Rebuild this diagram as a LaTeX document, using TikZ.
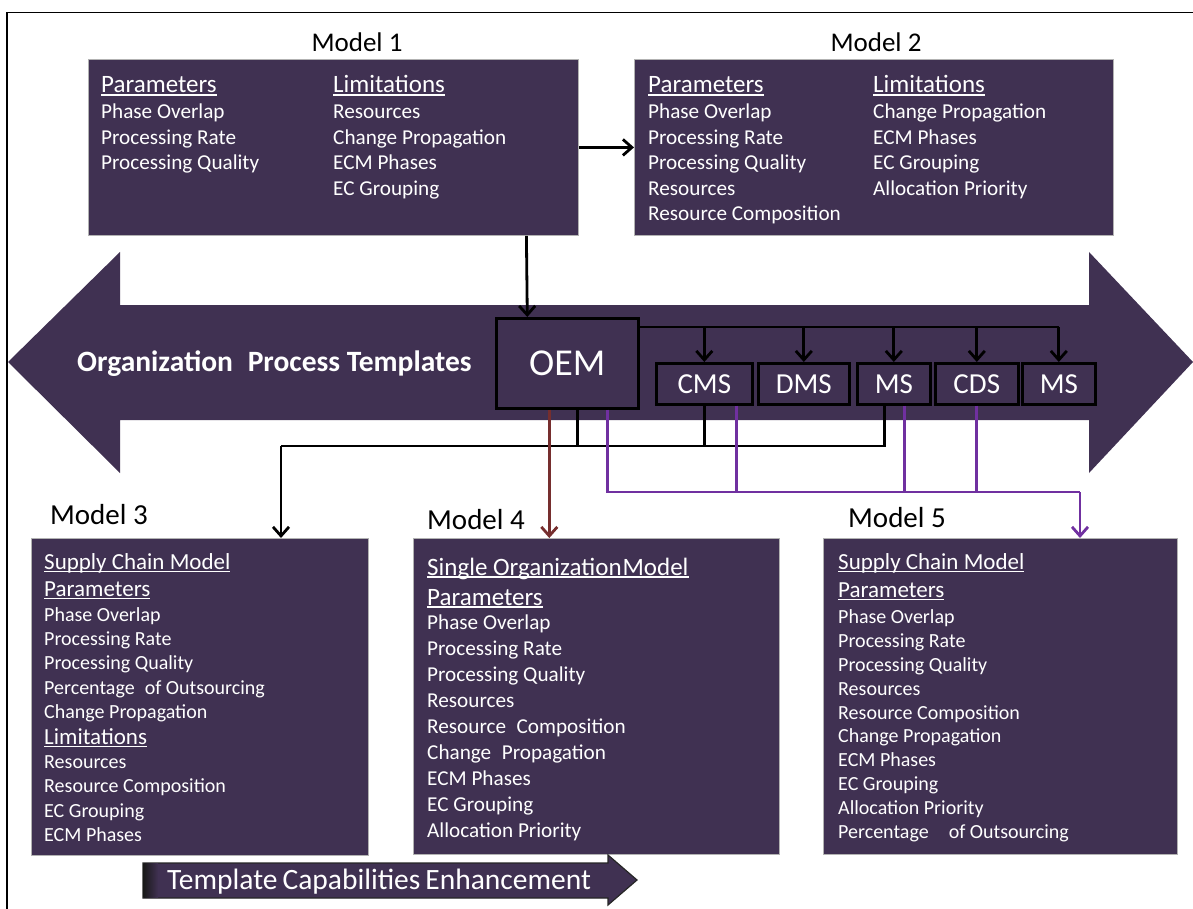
\documentclass[tikz,border=0pt]{standalone}
\usepackage{fontspec}
\setmainfont{Carlito}
\usetikzlibrary{arrows.meta,calc}
\definecolor{boxp}{RGB}{64,49,82}
\definecolor{brn}{RGB}{118,46,46}
\definecolor{vio}{RGB}{112,48,160}
\newcommand{\uln}[1]{\setbox0\hbox{#1}\rlap{\rule[-0.11em]{\wd0}{0.06em}}\box0}
\tikzset{
  mbox/.style={fill=boxp, draw=gray!60, line width=0.8pt, inner sep=0, anchor=north west},
  sbox/.style={fill=boxp, draw=black, line width=2.6pt, inner sep=0, anchor=north west,
    minimum height=41pt, text=white, font=\fontsize{29}{32}\selectfont},
  item/.style={anchor=west, inner sep=0, text=white, font=\fontsize{21.2}{25}\selectfont,
    text height=13.6pt, text depth=0pt},
  sitem/.style={item, font=\fontsize{20}{24}\selectfont, text height=12.9pt},
  hd/.style={item, font=\fontsize{25}{30}\selectfont, text height=16pt},
  shd/.style={item, font=\fontsize{23}{28}\selectfont, text height=14.8pt},
  ttl/.style={inner sep=0, font=\fontsize{27}{32}\selectfont, text height=17.4pt, text depth=0pt},
  bttl/.style={ttl, font=\fontsize{29}{34}\selectfont, text height=18.7pt},
  conn/.style={line width=2.8pt},
  arr/.style={-{Straight Barb[length=9pt,width=16pt]}}
}
\begin{document}
\begin{tikzpicture}[x=1pt,y=-1pt]
\useasboundingbox (0,0) rectangle (1193,909);
% frame
\draw[line width=1.5pt] (7,909) -- (7,12.5) -- (1193,12.5);

% big double arrow
\fill[boxp] (8,362) -- (120,252) -- (120,305) -- (1089,305) -- (1089,252) -- (1193,362)
  -- (1089,473) -- (1089,420) -- (120,420) -- (120,473) -- cycle;
\node[anchor=west, inner sep=0, text=white, font=\bfseries\fontsize{29.5}{34}\selectfont, text height=19pt, text depth=0pt]
  (opt) at (77,362) {Organization\enspace Process Templates};

% top models
\node[ttl] (t1) at (357,43) {Model 1};
\node[ttl] (t2) at (876,43) {Model 2};
\node[mbox, minimum width=490pt, minimum height=176pt] (m1) at (88,59) {};
\node[mbox, minimum width=479pt, minimum height=176pt] (m2) at (634,59) {};

\node[hd] (m1h1) at (101,85) {\uln{Parameters}};
\foreach \t [count=\i] in {Phase Overlap,Processing Rate,Processing Quality}
  \node[item] (m1a\i) at (101,86.5+\i*25.5) {\t};
\node[hd] (m1h2) at (333,85) {\uln{Limitations}};
\foreach \t [count=\i] in {Resources,Change Propagation,ECM Phases,EC Grouping}
  \node[item] (m1b\i) at (333,86.5+\i*25.5) {\t};

\node[hd] (m2h1) at (648,85) {\uln{Parameters}};
\foreach \t [count=\i] in {Phase Overlap,Processing Rate,Processing Quality,Resources,Resource Composition}
  \node[item] (m2a\i) at (648,86.5+\i*25.5) {\t};
\node[hd] (m2h2) at (873,85) {\uln{Limitations}};
\foreach \t [count=\i] in {Change Propagation,ECM Phases,EC Grouping,Allocation Priority}
  \node[item] (m2b\i) at (873,86.5+\i*25.5) {\t};

% OEM and small boxes
\node[sbox, minimum width=142pt, minimum height=90pt, font=\fontsize{38}{42}\selectfont] (oem) at (495,317) {OEM};
\node[sbox, minimum width=96pt] (s1) at (655,362) {CMS};
\node[sbox, minimum width=91pt] (s2) at (757,362) {DMS};
\node[sbox, minimum width=73pt] (s3) at (856,362) {MS};
\node[sbox, minimum width=83pt] (s4) at (934,362) {CDS};
\node[sbox, minimum width=73pt] (s5) at (1021,362) {MS};

% bottom models
\node[bttl] (t3) at (99,515) {Model 3};
\node[bttl] (t4) at (476,520) {Model 4};
\node[bttl] (t5) at (897,518) {Model 5};
\node[mbox, minimum width=337pt, minimum height=317pt] (m3) at (31,538) {};
\node[mbox, minimum width=366pt, minimum height=316pt] (m4) at (413,538) {};
\node[mbox, minimum width=354pt, minimum height=316pt] (m5) at (823,538) {};

\node[shd] (m3h1) at (44,562) {\uln{Supply Chain Model}};
\node[shd] (m3h2) at (44,589) {\uln{Parameters}};
\foreach \t [count=\i] in {Phase Overlap,Processing Rate,Processing Quality,Percentage\enspace of Outsourcing,Change Propagation}
  \node[sitem] (m3a\i) at (44,590.8+\i*24.2) {\t};
\node[shd] (m3h3) at (44,737) {\uln{Limitations}};
\foreach \t [count=\i] in {Resources,Resource Composition,EC Grouping,ECM Phases}
  \node[sitem] (m3b\i) at (44,737.6+\i*24.4) {\t};

\node[hd] (m4h1) at (427,567) {\uln{Single Organization\kern1pt Model}};
\node[hd] (m4h2) at (427,597) {\uln{Parameters}};
\foreach \t [count=\i] in {Phase Overlap,Processing Rate,Processing Quality,Resources,Resource\enspace Composition,Change\enspace Propagation,ECM Phases,EC Grouping,Allocation Priority}
  \node[item] (m4a\i) at (427,597+\i*26) {\t};

\node[shd] (m5h1) at (838,562) {\uln{Supply Chain Model}};
\node[shd] (m5h2) at (838,590) {\uln{Parameters}};
\foreach \t [count=\i] in {Phase Overlap,Processing Rate,Processing Quality,Resources,Resource Composition,Change Propagation,ECM Phases,EC Grouping,Allocation Priority,Percentage\quad of Outsourcing}
  \node[sitem] (m5a\i) at (838,593.1+\i*23.9) {\t};

% bottom enhancement arrow
\filldraw[fill=boxp, draw=black!85, line width=1.2pt] (143,863) -- (608,863) -- (608,855) -- (637,880)
  -- (608,905) -- (608,898) -- (143,898) -- cycle;
\shade[left color=black!90, right color=boxp] (143.6,863.6) rectangle (158,897.4);
\node[item, font=\fontsize{29.5}{34}\selectfont, text height=19pt] (tce) at (167,880) {Template\kern5pt Capabilities\kern5pt Enhancement};

% connectors
\draw[conn, arr] (m1.east) -- (m2.west);
\draw[conn, arr] ([xshift=193pt]m1.south) -- ([xshift=-40pt]oem.north);
\draw[conn] (oem.east |- 0,327) -- (s5.north |- 0,327);
\foreach \s in {s1,s2,s3,s4,s5}
  \draw[conn, arr] (\s.north |- 0,327) -- (\s.north);

\coordinate (jb) at (281,446);
\coordinate (jp) at (1080,492);
\draw[conn] ([xshift=10pt]oem.south) |- (jb);
\draw[conn] (s1.south) -- (s1.south |- jb);
\draw[conn] ([xshift=-9.5pt]s3.south) |- (jb);
\draw[conn, arr] (jb) -- (m3.north -| jb);

\draw[conn, vio] ([xshift=40pt]oem.south) |- (jp);
\draw[conn, vio] ([xshift=32pt]s1.south) -- ([xshift=32pt]s1.south |- jp);
\draw[conn, vio] ([xshift=10.5pt]s3.south) -- ([xshift=10.5pt]s3.south |- jp);
\draw[conn, vio] (s4.south) -- (s4.south |- jp);
\draw[conn, vio, arr] (jp) -- (m5.north -| jp);

\draw[conn, brn, arr] ([xshift=-18pt]oem.south) -- ([xshift=-18pt]oem.south |- m4.north);
\end{tikzpicture}
\end{document}
